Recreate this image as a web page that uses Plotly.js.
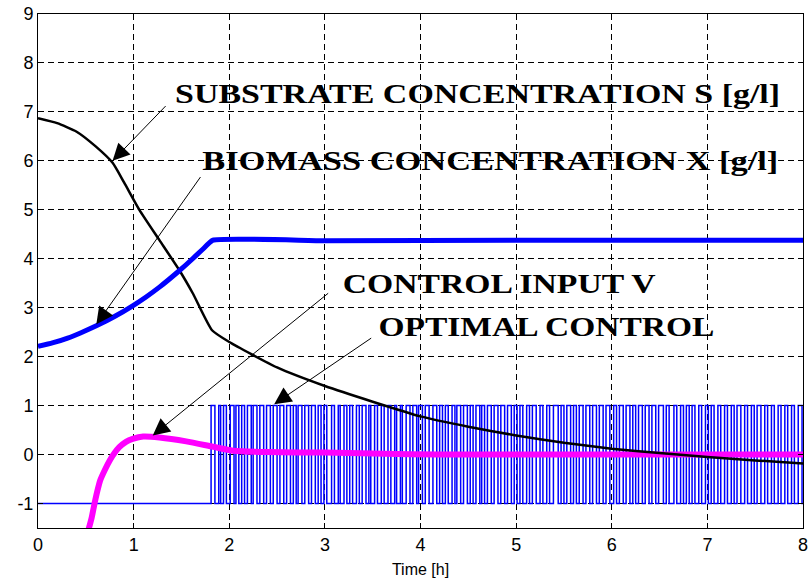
<!DOCTYPE html>
<html>
<head>
<meta charset="utf-8">
<script src="https://cdn.plot.ly/plotly-3.0.1.min.js"></script>
<style>html,body{margin:0;padding:0;background:#fff;}#chart{width:810px;height:582px;}</style>
</head>
<body>
<div id="chart"></div>
<script>
// Substrate concentration S [g/l]
const sTime = [0, 0.2, 0.4, 0.6, 0.78, 0.9, 1.06, 1.27, 1.48, 1.62, 1.82, 2.0, 2.5, 3.0, 3.5, 4.0, 4.5, 5.0, 5.5, 6.0, 6.5, 7.0, 7.5, 8.0];
const sValue = [6.87, 6.77, 6.6, 6.3, 5.96, 5.56, 5.0, 4.38, 3.76, 3.29, 2.54, 2.30, 1.78, 1.40, 1.08, 0.78, 0.57, 0.39, 0.24, 0.12, 0.03, -0.05, -0.12, -0.18];

// Biomass concentration X [g/l]
const xTime = [0, 0.15, 0.31, 0.45, 0.61, 0.8, 0.99, 1.13, 1.27, 1.48, 1.6, 1.72, 1.83, 3.0, 5.0, 8.0];
const xValue = [2.21, 2.28, 2.38, 2.49, 2.63, 2.82, 3.04, 3.22, 3.42, 3.76, 3.97, 4.19, 4.38, 4.37, 4.38, 4.38];

// Control input V
const vTime = [0.53, 0.56, 0.59, 0.62, 0.65, 0.7, 0.75, 0.8, 0.85, 0.92, 0.99, 1.1, 1.27, 1.55, 1.83, 2.04, 2.39, 3.0, 3.5, 4.2, 8.0];
const vValue = [-1.52, -1.3, -1.01, -0.75, -0.53, -0.31, -0.12, 0.03, 0.15, 0.26, 0.32, 0.37, 0.35, 0.27, 0.16, 0.08, 0.05, 0.04, 0.02, 0.0, 0.0];

// Optimal control: initial level and switching instants (bang-bang between -1 and 1)
const uStart = -1;
const uSwitch = [1.81, 1.85, 1.89, 1.91, 1.94, 1.97, 2.01, 2.05, 2.07, 2.10, 2.13, 2.16, 2.19, 2.23, 2.25, 2.29, 2.32, 2.36, 2.39, 2.43, 2.46, 2.50, 2.53, 2.57, 2.60, 2.64, 2.67, 2.70, 2.72, 2.76, 2.79, 2.83, 2.86, 2.90, 2.93,
  2.96, 2.99, 3.02, 3.07, 3.10, 3.14, 3.16, 3.20, 3.23, 3.26, 3.29, 3.33, 3.36, 3.39, 3.43, 3.46, 3.48, 3.52, 3.55, 3.59, 3.62, 3.66, 3.69, 3.73, 3.75, 3.79, 3.81, 3.85, 3.89, 3.92, 3.96, 3.98, 4.02, 4.05, 4.09, 4.13, 4.17,
  4.20, 4.23, 4.26, 4.29, 4.33, 4.36, 4.38, 4.42, 4.45, 4.49, 4.52, 4.55, 4.58, 4.62, 4.64, 4.67, 4.70, 4.74, 4.77, 4.81, 4.84, 4.88, 4.91, 4.95, 4.98, 5.01, 5.04, 5.07, 5.11, 5.14, 5.17, 5.21, 5.25, 5.28, 5.32, 5.35, 5.39,
  5.44, 5.47, 5.50, 5.53, 5.57, 5.60, 5.63, 5.66, 5.70, 5.73, 5.77, 5.80, 5.84, 5.87, 5.91, 5.94, 5.98, 6.02, 6.05, 6.08, 6.12, 6.15, 6.19, 6.22, 6.25, 6.28, 6.32, 6.35, 6.39, 6.42, 6.46, 6.49, 6.54, 6.57, 6.60, 6.65, 6.68,
  6.72, 6.75, 6.78, 6.81, 6.84, 6.87, 6.91, 6.94, 6.98, 7.01, 7.04, 7.07, 7.11, 7.14, 7.18, 7.21, 7.25, 7.28, 7.31, 7.35, 7.39, 7.42, 7.46, 7.49, 7.52, 7.56, 7.60, 7.63, 7.67, 7.70, 7.74, 7.77, 7.81, 7.84, 7.88, 7.91, 7.95, 7.99];

// Axis ticks
const xTicks = [0, 1, 2, 3, 4, 5, 6, 7, 8];
const yTicks = [-1, 0, 1, 2, 3, 4, 5, 6, 7, 8, 9];
const yTickText = ['-1', '0', '1', '2', '3', '4', '5', '6', '7', '8', '9'];

// Labels: [text, x, y, stretched width in px]
const labels = [
  ['SUBSTRATE CONCENTRATION S [g/l]', 4.60, 7.38, 605],
  ['BIOMASS CONCENTRATION X [g/l]', 4.73, 6.01, 576],
  ['CONTROL INPUT V', 4.82, 3.50, 313],
  ['OPTIMAL CONTROL', 5.32, 2.61, 336]
];
// Arrows: [tipX, tipY, tailX, tailY]
const arrows = [
  [0.78, 6.0, 1.35, 7.15],
  [0.61, 2.66, 1.71, 5.70],
  [1.20, 0.39, 3.05, 3.32],
  [2.47, 1.03, 3.50, 2.40]
];

const ctrlX = [0], ctrlY = [uStart];
let u = uStart;
uSwitch.forEach(t => { u = -u; ctrlX.push(t); ctrlY.push(u); });
ctrlX.push(8); ctrlY.push(u);

const traces = [
  {x: ctrlX, y: ctrlY, mode: 'lines', line: {color: '#0000ff', width: 1.5, shape: 'hv'}, hoverinfo: 'skip'},
  {x: vTime, y: vValue, mode: 'lines', line: {color: '#ff00ff', width: 6, shape: 'spline', smoothing: 0.6}},
  {x: sTime, y: sValue, mode: 'lines', line: {color: '#000000', width: 2.5, shape: 'spline', smoothing: 0.5}},
  {x: xTime, y: xValue, mode: 'lines', line: {color: '#0000ff', width: 5, shape: 'spline', smoothing: 0.4}}
];

const annotations = [];
arrows.forEach(a => annotations.push({
  x: a[0], y: a[1], ax: a[2], ay: a[3], xref: 'x', yref: 'y', axref: 'x', ayref: 'y',
  text: '', showarrow: true, arrowhead: 2, arrowsize: 3.4, arrowwidth: 1, arrowcolor: '#000', standoff: 0
}));
labels.forEach(l => annotations.push({
  x: l[1], y: l[2], xref: 'x', yref: 'y', text: l[0], showarrow: false,
  xanchor: 'center', yanchor: 'middle',
  font: {family: 'Liberation Serif, Times New Roman, serif', size: 28, color: '#000', weight: 'bold'}
}));

const axisCommon = {
  showline: true, linecolor: '#000', linewidth: 1, mirror: 'ticks',
  ticks: 'inside', ticklen: 5, tickcolor: '#000',
  showgrid: true, gridcolor: '#000', gridwidth: 1, griddash: '6px,4px',
  zeroline: false,
  tickfont: {family: 'Liberation Sans, Arial, sans-serif', size: 18, color: '#000'}
};

const layout = {
  width: 810, height: 582,
  margin: {l: 38, r: 7, t: 14, b: 54},
  paper_bgcolor: '#fff', plot_bgcolor: '#fff',
  showlegend: false,
  xaxis: Object.assign({}, axisCommon, {
    range: [0, 8], tickvals: xTicks,
    title: {text: 'Time [h]', font: {family: 'Liberation Sans, Arial, sans-serif', size: 16, color: '#000'}, standoff: 10}
  }),
  yaxis: Object.assign({}, axisCommon, {range: [-1.5, 9], tickvals: yTicks, ticktext: yTickText}),
  annotations: annotations
};

Plotly.newPlot('chart', traces, layout, {staticPlot: true}).then(() => {
  const widths = {};
  labels.forEach(l => { widths[l[0]] = l[3]; });
  document.querySelectorAll('text.annotation-text').forEach(el => {
    const w = widths[el.textContent];
    if (w) {
      el.setAttribute('textLength', w);
      el.setAttribute('lengthAdjust', 'spacingAndGlyphs');
    }
  });
});
</script>
</body>
</html>
